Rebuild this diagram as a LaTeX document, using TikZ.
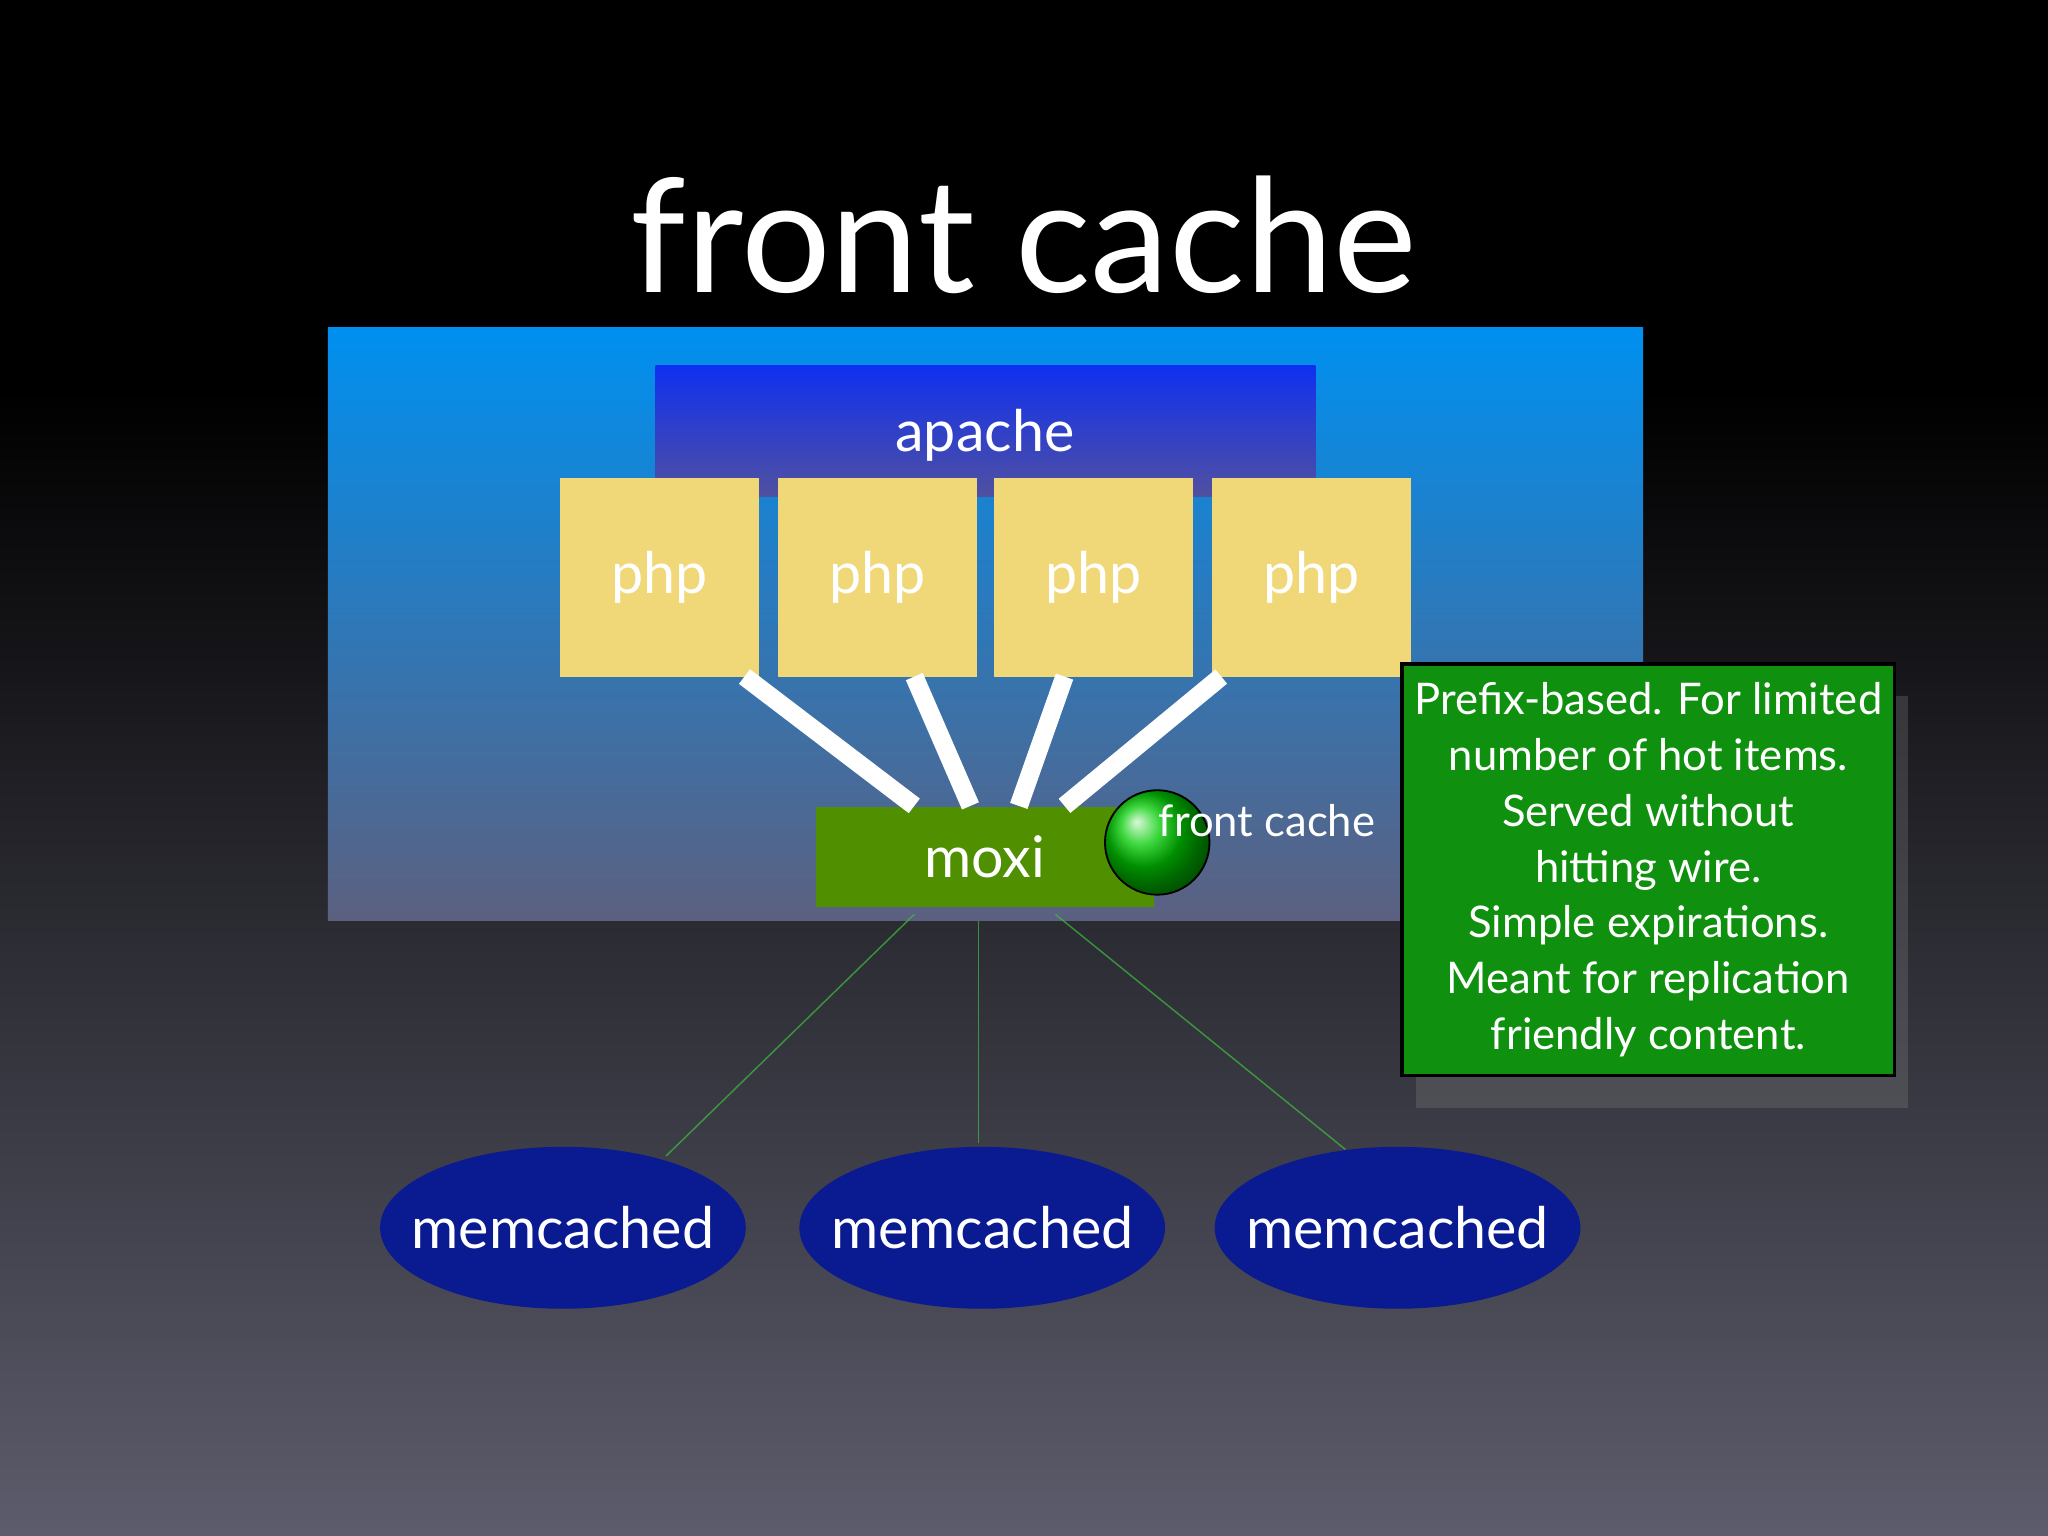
\documentclass[tikz,border=0pt]{standalone}
\usepackage{fontspec}
\setmainfont{Lato}
\usetikzlibrary{shadows,shapes.geometric}
\definecolor{php}{HTML}{F0D878}
\definecolor{moxi}{HTML}{4F8F00}
\definecolor{note}{HTML}{10900F}
\definecolor{mem}{HTML}{0A1A90}
\begin{document}
\begin{tikzpicture}[x=0.02cm,y=-0.02cm,
  lbl/.style={text=white,font=\fontsize{25}{30}\selectfont},
  phpbox/.style={fill=php,minimum width=152*0.02cm,minimum height=152*0.02cm,inner sep=0,lbl},
  link/.style={white,line width=8pt},
  faint/.style={draw=green!50!gray,line width=0.6pt,opacity=0.45},
  memn/.style={ellipse,fill=mem,inner sep=0,minimum width=280*0.02cm,minimum height=124*0.02cm,
     label={[lbl]center:memcached}}]
\useasboundingbox (0,0) rectangle (1568,1176);
\shade[top color=black,bottom color=black] (0,0) rectangle (1568,300);
\shade[top color=black,bottom color={rgb,255:red,92;green,92;blue,108}] (0,299) rectangle (1568,1176);
\node[text=white,font=\fontsize{69}{75}\selectfont] (title) at (784,180) {front cache};
\shade[top color={rgb,255:red,0;green,144;blue,240},bottom color={rgb,255:red,92;green,96;blue,128}] (251,251) rectangle (1258,705);
\shade[top color={rgb,255:red,16;green,48;blue,240},bottom color={rgb,255:red,80;green,80;blue,160}] (502,280) rectangle (1007,380);
\node[lbl] (apache) at (754,333) {apache};
\node[phpbox] (p1) at (505,442) {php};
\node[phpbox] (p2) at (672,442) {php};
\node[phpbox] (p3) at (837,442) {php};
\node[phpbox] (p4) at (1004,442) {php};
\node[fill=moxi,minimum width=259*0.02cm,minimum height=77*0.02cm,inner sep=0,lbl] (moxi) at (754,656) {moxi};
\coordinate (a1) at (570,518); \coordinate (b1) at (700,617);
\coordinate (a2) at (700,518); \coordinate (b2) at (743,617);
\coordinate (a3) at (815,518); \coordinate (b3) at (780,617);
\coordinate (a4) at (935,518); \coordinate (b4) at (815,617);
\foreach \i in {1,...,4} \draw[link] (a\i) -- (b\i);
\node[circle,draw=black,thick,minimum size=80*0.02cm,ball color=green!80!black] (ball) at (886,645) {};
\node[text=white,font=\fontsize{19}{23}\selectfont] (fc) at (970,628) {front cache};
\node[memn] (m1) at (431,940) {};
\node[memn] (m2) at (752,940) {};
\node[memn] (m3) at (1070,940) {};
\coordinate (s1) at (700,700); \coordinate (e1) at (510,885);
\coordinate (s2) at (749,705); \coordinate (e2) at (749,875);
\coordinate (s3) at (808,700); \coordinate (e3) at (1030,880);
\foreach \i in {1,2,3} {
  \draw[faint] (s\i) -- (e\i);
  \draw[faint,xshift=12*0.02cm] (s\i) -- (e\i);
}
\node[fill=note,draw=black,line width=1.5pt,minimum width=377*0.02cm,minimum height=315*0.02cm,
  drop shadow={shadow xshift=6pt,shadow yshift=-14pt,opacity=0.3},
  text=white,align=center,font=\fontsize{19}{24.3}\selectfont] (note) at (1262,666)
  {Prefix-based. For limited\\number of hot items.\\Served without\\hitting wire.\\Simple expirations.\\Meant for replication\\friendly content.};
\end{tikzpicture}
\end{document}
